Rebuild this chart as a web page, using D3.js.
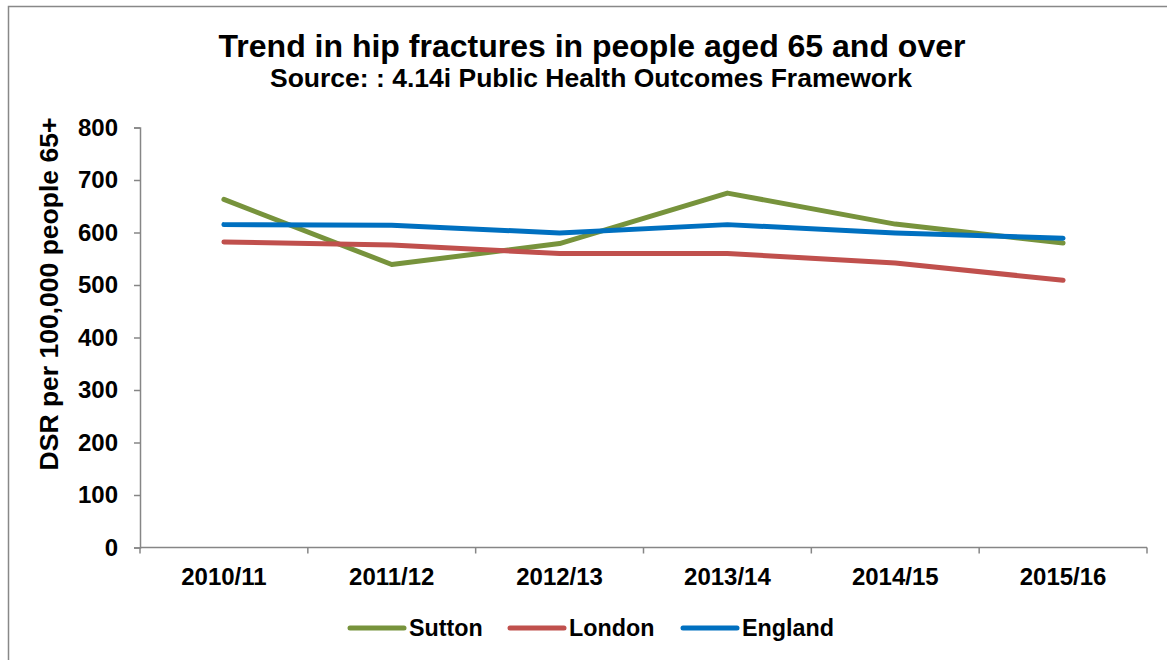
<!DOCTYPE html>
<html>
<head>
<meta charset="utf-8">
<script src="https://cdn.jsdelivr.net/npm/d3@7"></script>
<style>
  body { margin: 0; background: #fff; }
  text { font-family: "Liberation Sans", Arial, sans-serif; font-weight: bold; fill: #000; }
</style>
</head>
<body>
<script>
// Data
var years = ["2010/11", "2011/12", "2012/13", "2013/14", "2014/15", "2015/16"];
var sutton = [663, 539, 579, 675, 616, 580];
var london = [582, 576, 560, 560, 542, 509];
var england = [615, 614, 599, 615, 599, 589];
var yTicks = [0, 100, 200, 300, 400, 500, 600, 700, 800];

var series = [
    {name: "Sutton", values: sutton, color: "#77933C"},
    {name: "London", values: london, color: "#C0504D"},
    {name: "England", values: england, color: "#0070C0"}
];

var svgWidth = 1167;
var svgHeight = 660;

var svg = d3.select("body")
    .append("svg")
    .attr("width", svgWidth)
    .attr("height", svgHeight);

// chart frame (cut off on the right and bottom)
svg.append("path")
    .attr("d", "M8.5,700 V6.5 H1200")
    .attr("fill", "none")
    .attr("stroke", "#888")
    .attr("stroke-width", 1.5);

var plotLeft = 140, plotRight = 1147, plotTop = 127.5, plotBottom = 547.5;

var x = d3.scaleBand()
    .domain(years)
    .range([plotLeft, plotRight]);

var y = d3.scaleLinear()
    .domain([0, 800])
    .range([plotBottom, plotTop]);

// axes
var xAxis = svg.append("g")
    .attr("transform", `translate(0, ${plotBottom})`)
    .call(d3.axisBottom(x).tickSize(0).tickPadding(20));
xAxis.select(".domain").remove();
xAxis.selectAll("text").attr("font-size", "24px").attr("font-family", null);

// category boundary ticks
var bounds = years.map(d => x(d)).concat([plotRight]);
svg.append("line")
    .attr("x1", plotLeft).attr("x2", plotRight)
    .attr("y1", plotBottom).attr("y2", plotBottom)
    .attr("stroke", "#868686").attr("stroke-width", 1.5);
svg.selectAll(".xtick")
    .data(bounds)
    .enter()
    .append("line")
    .attr("x1", d => d).attr("x2", d => d)
    .attr("y1", plotBottom).attr("y2", plotBottom + 6)
    .attr("stroke", "#868686").attr("stroke-width", 1.5);

var yAxis = svg.append("g")
    .attr("transform", `translate(${plotLeft}, 0)`)
    .call(d3.axisLeft(y).tickValues(yTicks).tickSize(6).tickPadding(16));
yAxis.select(".domain").attr("stroke", "#868686").attr("stroke-width", 1.5);
yAxis.selectAll(".tick line").attr("stroke", "#868686").attr("stroke-width", 1.5);
yAxis.selectAll("text").attr("font-size", "24px").attr("font-family", null);

// lines
var line = d3.line()
    .x((d, i) => x(years[i]) + x.bandwidth() / 2)
    .y(d => y(d));

svg.selectAll(".series")
    .data(series)
    .enter()
    .append("path")
    .attr("d", d => line(d.values))
    .attr("fill", "none")
    .attr("stroke", d => d.color)
    .attr("stroke-width", 5)
    .attr("stroke-linecap", "round")
    .attr("stroke-linejoin", "round");

// titles
svg.append("text")
    .attr("x", 592)
    .attr("y", 57)
    .attr("text-anchor", "middle")
    .attr("font-size", "32px")
    .text("Trend in hip fractures in people aged 65 and over");

svg.append("text")
    .attr("x", 591)
    .attr("y", 87)
    .attr("text-anchor", "middle")
    .attr("font-size", "26.5px")
    .text("Source: : 4.14i Public Health Outcomes Framework");

svg.append("text")
    .attr("transform", "translate(58, 294) rotate(-90)")
    .attr("text-anchor", "middle")
    .attr("font-size", "26.5px")
    .text("DSR per 100,000 people 65+");

// legend
var legendX = [350, 510, 683];
var legend = svg.selectAll(".legend")
    .data(series)
    .enter()
    .append("g")
    .attr("transform", (d, i) => `translate(${legendX[i]}, 628)`);

legend.append("line")
    .attr("x1", 0).attr("x2", 54)
    .attr("stroke", d => d.color)
    .attr("stroke-width", 5)
    .attr("stroke-linecap", "round");

legend.append("text")
    .attr("x", 59)
    .attr("y", 8)
    .attr("font-size", "23.3px")
    .text(d => d.name);
</script>
</body>
</html>
